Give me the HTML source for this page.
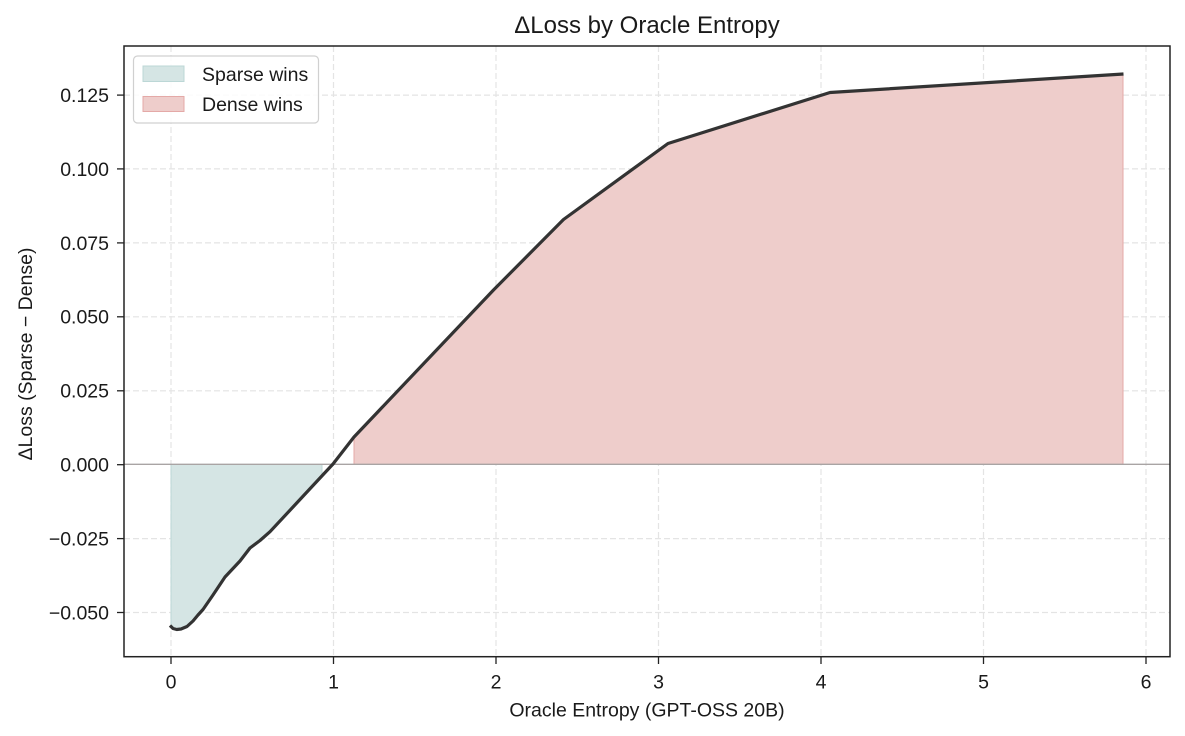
<!DOCTYPE html>
<html>
<head>
<meta charset="utf-8">
<style>
  html, body { margin: 0; padding: 0; background: #ffffff; }
  svg { display: block; }
  text { font-family: "Liberation Sans", "DejaVu Sans", sans-serif; fill: #1a1a1a; }
</style>
</head>
<body>
<svg width="1185" height="736" viewBox="0 0 1185 736" xmlns="http://www.w3.org/2000/svg">
  <rect x="0" y="0" width="1185" height="736" fill="#ffffff"/>

  <!-- grid -->
  <g stroke="#e4e4e4" stroke-width="1.2" stroke-dasharray="6 3" fill="none">
    <line x1="171" y1="46" x2="171" y2="657"/>
    <line x1="333.5" y1="46" x2="333.5" y2="657"/>
    <line x1="496" y1="46" x2="496" y2="657"/>
    <line x1="658.5" y1="46" x2="658.5" y2="657"/>
    <line x1="821" y1="46" x2="821" y2="657"/>
    <line x1="983.5" y1="46" x2="983.5" y2="657"/>
    <line x1="1146" y1="46" x2="1146" y2="657"/>
    <line x1="124" y1="95.1" x2="1170" y2="95.1"/>
    <line x1="124" y1="168.9" x2="1170" y2="168.9"/>
    <line x1="124" y1="242.9" x2="1170" y2="242.9"/>
    <line x1="124" y1="316.8" x2="1170" y2="316.8"/>
    <line x1="124" y1="390.8" x2="1170" y2="390.8"/>
    <line x1="124" y1="538.6" x2="1170" y2="538.6"/>
    <line x1="124" y1="612.5" x2="1170" y2="612.5"/>
  </g>

  <!-- fills -->
  <polygon points="171,464.5 171,625.5 173,628.5 176.7,629.5 181,629 187,626.5 193,621 198,615 203,609.5 213,595 225,577 240,561 250,548 260,540.5 270,531.7 293,507 322,476 322,464.5"
           fill="#d5e5e4" stroke="#bcd7d6" stroke-width="1"/>
  <polygon points="354,464.5 354,437 493.5,290 563.5,219.5 668,143.5 830,92.5 1123,74 1123,464.5"
           fill="#eecdcb" stroke="#e4a9a7" stroke-width="1"/>

  <!-- zero line -->
  <line x1="124" y1="464.3" x2="1170" y2="464.3" stroke="#a9a4a4" stroke-width="1.4"/>

  <!-- curve -->
  <polyline points="170,625.5 173,628.5 176.7,629.5 181,629 187,626.5 193,621 198,615 203,609.5 213,595 225,577 240,561 250,548 260,540.5 270,531.7 293,507 333,464 354,437 493.5,290 563.5,219.5 668,143.5 830,92.5 1123.5,74"
            fill="none" stroke="#333333" stroke-width="3.2" stroke-linejoin="round" stroke-linecap="butt"/>

  <!-- spines -->
  <rect x="124" y="46" width="1046" height="610.7" fill="none" stroke="#222222" stroke-width="1.5"/>

  <!-- x ticks -->
  <g stroke="#222222" stroke-width="1.3">
    <line x1="171" y1="656.7" x2="171" y2="664"/>
    <line x1="333.5" y1="656.7" x2="333.5" y2="664"/>
    <line x1="496" y1="656.7" x2="496" y2="664"/>
    <line x1="658.5" y1="656.7" x2="658.5" y2="664"/>
    <line x1="821" y1="656.7" x2="821" y2="664"/>
    <line x1="983.5" y1="656.7" x2="983.5" y2="664"/>
    <line x1="1146" y1="656.7" x2="1146" y2="664"/>
  </g>
  <g font-size="19.5" text-anchor="middle">
    <text x="171" y="688.5">0</text>
    <text x="333.5" y="688.5">1</text>
    <text x="496" y="688.5">2</text>
    <text x="658.5" y="688.5">3</text>
    <text x="821" y="688.5">4</text>
    <text x="983.5" y="688.5">5</text>
    <text x="1146" y="688.5">6</text>
  </g>

  <!-- y ticks -->
  <g stroke="#222222" stroke-width="1.3">
    <line x1="117" y1="95.1" x2="124" y2="95.1"/>
    <line x1="117" y1="168.9" x2="124" y2="168.9"/>
    <line x1="117" y1="242.9" x2="124" y2="242.9"/>
    <line x1="117" y1="316.8" x2="124" y2="316.8"/>
    <line x1="117" y1="390.8" x2="124" y2="390.8"/>
    <line x1="117" y1="464.7" x2="124" y2="464.7"/>
    <line x1="117" y1="538.6" x2="124" y2="538.6"/>
    <line x1="117" y1="612.5" x2="124" y2="612.5"/>
  </g>
  <g font-size="19.5" text-anchor="end">
    <text x="109" y="102">0.125</text>
    <text x="109" y="175.8">0.100</text>
    <text x="109" y="249.8">0.075</text>
    <text x="109" y="323.7">0.050</text>
    <text x="109" y="397.7">0.025</text>
    <text x="109" y="471.6">0.000</text>
    <text x="109" y="545.5">−0.025</text>
    <text x="109" y="619.4">−0.050</text>
  </g>

  <!-- axis labels -->
  <text x="647" y="716.5" font-size="19.5" text-anchor="middle">Oracle Entropy (GPT-OSS 20B)</text>
  <text transform="translate(32,354) rotate(-90)" font-size="19.5" text-anchor="middle">ΔLoss (Sparse − Dense)</text>

  <!-- title -->
  <text x="647" y="33" font-size="24" text-anchor="middle">ΔLoss by Oracle Entropy</text>

  <!-- legend -->
  <rect x="133.5" y="56" width="185" height="67" rx="4" ry="4" fill="#ffffff" fill-opacity="0.85" stroke="#d0d0d0" stroke-width="1.2"/>
  <rect x="143" y="66" width="41" height="15.5" fill="#d5e5e4" stroke="#bcd7d6" stroke-width="1"/>
  <rect x="143" y="96.5" width="41" height="15" fill="#eecdcb" stroke="#e4a9a7" stroke-width="1"/>
  <text x="202" y="81" font-size="19.5">Sparse wins</text>
  <text x="202" y="111" font-size="19.5">Dense wins</text>
</svg>
</body>
</html>
